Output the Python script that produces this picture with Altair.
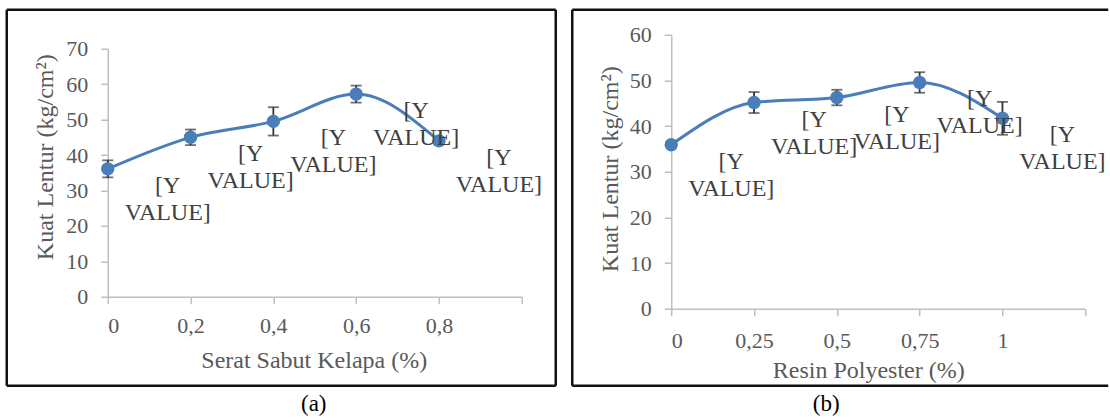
import altair as alt
import pandas as pd

# ---------- data ----------
# Panel (a): Serat Sabut Kelapa (%)
a_x = [0, 0.2, 0.4, 0.6, 0.8]
a_y = [36.1, 45.0, 49.5, 57.2, 44.0]
a_err = [2.4, 2.2, 4.0, 2.4, 1.0]
a_xticks = [0, 0.2, 0.4, 0.6, 0.8, 1.0]
a_yticks = [0, 10, 20, 30, 40, 50, 60, 70]

# Panel (b): Resin Polyester (%)
b_x = [0, 0.25, 0.5, 0.75, 1.0]
b_y = [35.9, 45.15, 46.25, 49.55, 41.7]
b_err = [0.5, 2.3, 1.7, 2.25, 3.6]
b_xticks = [0, 0.25, 0.5, 0.75, 1.0, 1.25]
b_yticks = [0, 10, 20, 30, 40, 50, 60]

point_label = "[Y\nVALUE]"
y_title = "Kuat Lentur (kg/cm²)"

FONT = "'Liberation Serif', 'Times New Roman', 'DejaVu Serif', serif"
BLUE = "#4A7EBB"
GREY_AXIS = "#BFBFBF"
GREY_TEXT = "#595959"


def panel(xs, ys, errs, xdom, xticks, ydom, yticks, yrange, xtitle, caption,
          w, h, frame, cap_xy, ytitle_xy, xtitle_xy, xlabel_pad, hide_above,
          draw_right=True):
    df = pd.DataFrame({
        "x": xs,
        "y": ys,
        "lo": [v - e for v, e in zip(ys, errs)],
        "hi": [v + e for v, e in zip(ys, errs)],
        "label": [point_label] * len(xs),
    })
    xaxis = alt.Axis(
        values=xticks,
        labelExpr=f"datum.value > {hide_above} ? '' : replace(format(datum.value, '.2~f'), '.', ',')",
        title=xtitle,
        labelPadding=xlabel_pad,
        titleBaseline="alphabetic",
        titleX=xtitle_xy[0],
        titleY=xtitle_xy[1],
    )
    yaxis = alt.Axis(
        values=yticks,
        title=y_title,
        labelPadding=13,
        titleAngle=270,
        titleAlign="center",
        titleBaseline="middle",
        titleX=ytitle_xy[0],
        titleY=ytitle_xy[1],
    )
    xs_ = alt.Scale(domain=xdom, nice=False, zero=False)
    ys_ = alt.Scale(domain=ydom, nice=False, range=yrange)
    X = alt.X("x:Q", scale=xs_, axis=xaxis)
    Y = alt.Y("y:Q", scale=ys_, axis=yaxis)

    base = alt.Chart(df)
    line = base.mark_line(color=BLUE, strokeWidth=3, interpolate="monotone").encode(x=X, y=Y)
    err = base.mark_rule(color="#333333", strokeWidth=1.8).encode(
        x=X, y=alt.Y("lo:Q", scale=ys_, axis=yaxis), y2="hi:Q")
    cap_lo = base.mark_tick(color="#333333", orient="horizontal", size=11, thickness=1.8).encode(
        x=X, y=alt.Y("lo:Q", scale=ys_, axis=yaxis))
    cap_hi = base.mark_tick(color="#333333", orient="horizontal", size=11, thickness=1.8).encode(
        x=X, y=alt.Y("hi:Q", scale=ys_, axis=yaxis))
    pts = base.mark_circle(color=BLUE, opacity=1, size=180).encode(x=X, y=Y)
    labels = base.mark_text(
        font=FONT, fontSize=24, color="#404040", align="center", baseline="middle",
        lineBreak="\n", lineHeight=27, dx=60, dy=17,
    ).encode(x=X, y=Y, text="label:N")

    one = alt.Chart(pd.DataFrame({"k": [0]}))
    fx1, fx2, fy1, fy2 = frame
    segs = [
        (fx1, fx2, fy1, fy1),
        (fx1, fx2, fy2, fy2),
        (fx1, fx1, fy1, fy2),
    ]
    if draw_right:
        segs.append((fx2, fx2, fy1, fy2))
    frames = [
        one.mark_rule(color="#111111", strokeWidth=2.5).encode(
            x=alt.value(a), x2=alt.value(b), y=alt.value(c), y2=alt.value(d))
        for a, b, c, d in segs
    ]
    cap = one.mark_text(font=FONT, fontSize=23, color="#000000", align="center",
                        baseline="middle").encode(
        x=alt.value(cap_xy[0]), y=alt.value(cap_xy[1]), text=alt.value(caption))

    return alt.layer(*frames, line, err, cap_lo, cap_hi, pts, labels, cap).properties(
        width=w, height=h)


# both plot areas share the same top (y=34 on the page); panel (a) starts its y range lower
pa = panel(a_x, a_y, a_err, [0, 1.0], a_xticks, [0, 70], a_yticks, [262, 14],
           "Serat Sabut Kelapa (%)", "(a)",
           w=414, h=262, frame=(-101, 448, -25, 351), cap_xy=(206, 369),
           ytitle_xy=(-62, 122), xtitle_xy=(206, 71), xlabel_pad=12, hide_above=0.9)

pb = panel(b_x, b_y, b_err, [0, 1.25], b_xticks, [0, 60], b_yticks, [274, 0],
           "Resin Polyester (%)", "(b)",
           w=414, h=274, frame=(-99, 437, -25, 351), cap_xy=(155, 369),
           ytitle_xy=(-61, 134), xtitle_xy=(197, 69), xlabel_pad=15, hide_above=1.1,
           draw_right=False)

chart = alt.hconcat(pa, pb, spacing=12.5).properties(
    padding={"left": 4.75, "top": 7.75, "right": 0, "bottom": 0},
    background="white",
).configure_view(strokeWidth=0).configure_axis(
    grid=False,
    domainColor=GREY_AXIS, domainWidth=1.5,
    tickColor=GREY_AXIS, tickWidth=1.5, tickSize=7,
    labelColor=GREY_TEXT, labelFont=FONT, labelFontSize=22,
    titleColor=GREY_TEXT, titleFont=FONT, titleFontSize=24, titleFontWeight="normal",
)

chart.save("out.html", embed_options={"renderer": "svg", "actions": False})
